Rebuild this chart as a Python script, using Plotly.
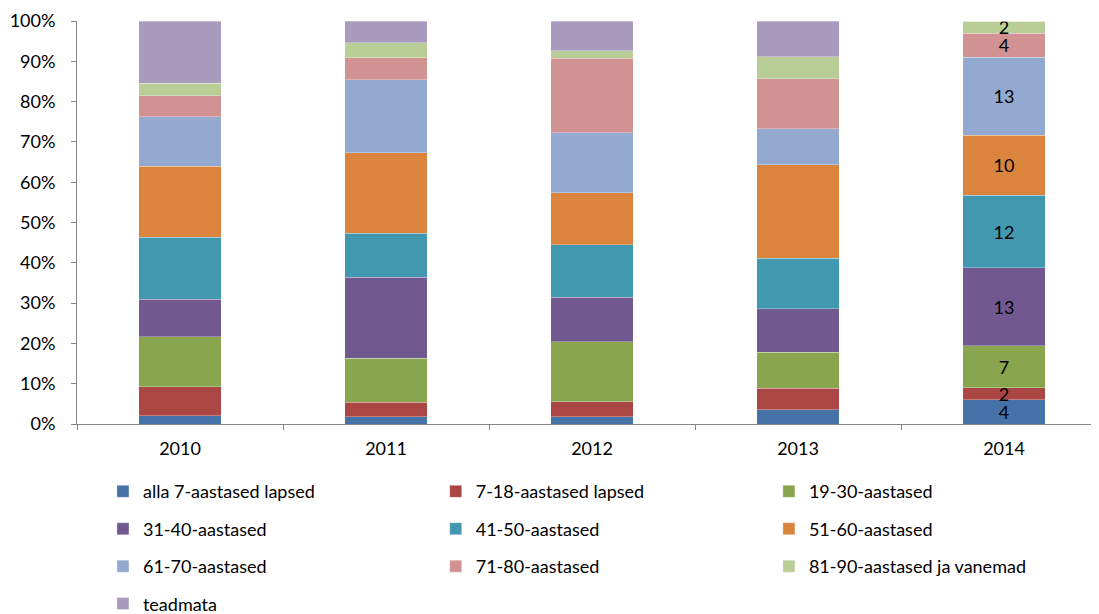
import plotly.graph_objects as go

years = ["2010", "2011", "2012", "2013", "2014"]
groups = ["alla 7-aastased lapsed", "7-18-aastased lapsed", "19-30-aastased",
          "31-40-aastased", "41-50-aastased", "51-60-aastased",
          "61-70-aastased", "71-80-aastased", "81-90-aastased ja vanemad", "teadmata"]

# counts per age group, per year (2010..2014)
alla7 = [2, 1, 1, 2, 4]
a7_18 = [7, 2, 2, 3, 2]
a19_30 = [12, 6, 8, 5, 7]
a31_40 = [9, 11, 6, 6, 13]
a41_50 = [15, 6, 7, 7, 12]
a51_60 = [17, 11, 7, 13, 10]
a61_70 = [12, 10, 8, 5, 13]
a71_80 = [5, 3, 10, 7, 4]
a81_90 = [3, 2, 1, 3, 2]
teadmata = [15, 3, 4, 5, 0]

series = [alla7, a7_18, a19_30, a31_40, a41_50, a51_60, a61_70, a71_80, a81_90, teadmata]
colors = ["#4572A7", "#AA4643", "#89A54E", "#71588F", "#4198AF",
          "#DB843D", "#93A9CF", "#D19392", "#B9CD96", "#A99BBD"]
legend_of = ["legend", "legend2", "legend3"] * 4

ytick_vals = list(range(0, 101, 10))
ytick_text = [f"{v}%" for v in ytick_vals]

FONT = "Lato"
FS = 18
fig = go.Figure()
for i, (name, vals) in enumerate(zip(groups, series)):
    txt = ["" for _ in vals]
    if vals[-1] > 0:
        txt[-1] = str(vals[-1])
    fig.add_trace(go.Bar(
        x=years, y=vals, name=name,
        marker=dict(color=colors[i], line=dict(width=0.6, color="rgba(255,255,255,0.5)")),
        text=txt, textposition="inside", insidetextanchor="middle", textangle=0,
        textfont=dict(color="black", size=FS, family=FONT),
        constraintext="none",
        legend=legend_of[i], legendgroup=name,
    ))

leg_common = dict(orientation="v", traceorder="grouped", tracegroupgap=11,
                  font=dict(family=FONT, size=FS, color="black"),
                  bgcolor="rgba(0,0,0,0)", yanchor="top", xanchor="left", y=-0.122)

fig.update_layout(
    width=1091, height=606,
    margin=dict(l=69, r=0, t=13, b=190, autoexpand=False),
    paper_bgcolor="white", plot_bgcolor="white",
    barmode="stack", barnorm="percent", bargap=0.6,
    font=dict(family=FONT, size=FS, color="black"),
    uniformtext=dict(minsize=FS, mode="show"),
    legend=dict(x=0.0254, **leg_common),
    legend2=dict(x=0.351, **leg_common),
    legend3=dict(x=0.677, **leg_common),
    xaxis=dict(type="category", range=[-0.5, 4.461], tickson="boundaries",
               ticks="outside", ticklen=5, tickcolor="#868686",
               showline=True, linecolor="#868686", linewidth=1,
               showgrid=False, ticklabelstandoff=8),
    yaxis=dict(range=[0, 100], tickvals=ytick_vals, ticktext=ytick_text,
               ticks="outside", ticklen=5, tickcolor="#868686",
               showline=True, linecolor="#868686", linewidth=1,
               showgrid=False, zeroline=False, ticklabelstandoff=12),
)

fig.write_html("out.html")
